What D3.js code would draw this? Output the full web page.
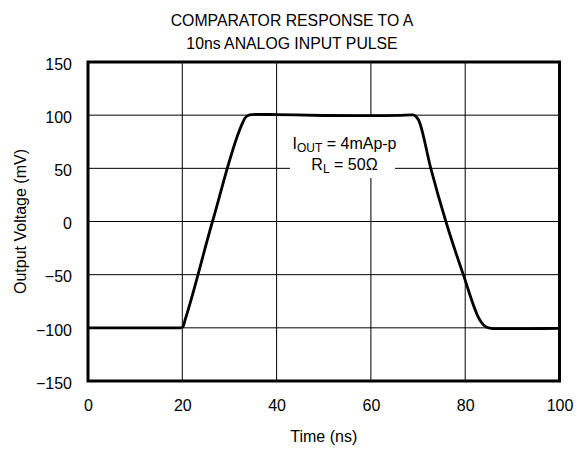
<!DOCTYPE html>
<html>
<head>
<meta charset="utf-8">
<script src="https://cdn.jsdelivr.net/npm/d3@7"></script>
<style>
body { margin: 0; background: #fff; }
text { font-family: "Liberation Sans", Arial, sans-serif; fill: #000; }
</style>
</head>
<body>
<script>
// data
var timeNs = [0, 10, 19.6, 20.1, 20.6, 26.4, 32.6, 33.3, 34.3, 35.5, 40, 50, 60, 66, 68.9, 69.5, 70.1, 72.7, 75.9, 79.6, 83.1, 84.0, 85.2, 86.6, 93, 100];
var outMv  = [-100, -100, -100, -99.2, -92.4, 0, 90.8, 97.3, 100.3, 100.8, 100.5, 99.7, 99.5, 99.8, 100.2, 99, 95.5, 50, 0, -50, -92.6, -97.8, -100.3, -100.8, -100.7, -100.6];
var xTicks = [0, 20, 40, 60, 80, 100];
var yTicks = [-150, -100, -50, 0, 50, 100, 150];

var data = timeNs.map(function(t, i) { return { t: t, v: outMv[i] }; });

var W = 587, H = 449;
var margin = { top: 62, right: 27.5, bottom: 68, left: 88 };
var width = W - margin.left - margin.right,
    height = H - margin.top - margin.bottom;

var svg = d3.select("body").append("svg")
    .attr("width", W)
    .attr("height", H);

var g = svg.append("g")
    .attr("transform", "translate(" + margin.left + "," + margin.top + ")");

var x = d3.scaleLinear().domain([0, 100]).range([0, width]);
var y = d3.scaleLinear().domain([-150, 150]).range([height, 0]);

// grid
g.append("g").selectAll("line").data(xTicks.slice(1, -1)).enter().append("line")
    .attr("x1", function(d) { return x(d); }).attr("x2", function(d) { return x(d); })
    .attr("y1", 0).attr("y2", height)
    .attr("stroke", "#000").attr("stroke-width", 1);
g.append("g").selectAll("line").data(yTicks.slice(1, -1)).enter().append("line")
    .attr("y1", function(d) { return y(d); }).attr("y2", function(d) { return y(d); })
    .attr("x1", 0).attr("x2", width)
    .attr("stroke", "#000").attr("stroke-width", 1);

// axes (labels only)
var xAxis = g.append("g")
    .attr("transform", "translate(0," + height + ")")
    .call(d3.axisBottom(x).tickValues(xTicks).tickSize(0).tickPadding(19));
var yAxis = g.append("g")
    .call(d3.axisLeft(y).tickValues(yTicks).tickSize(0).tickPadding(16));
[xAxis, yAxis].forEach(function(a) {
    a.select(".domain").remove();
    a.selectAll("text").attr("font-size", "16px")
        .attr("font-family", "'Liberation Sans', Arial, sans-serif");
});
yAxis.selectAll("text").attr("dy", "0.45em");

// annotation box masks the grid
g.append("rect")
    .attr("x", 202).attr("y", 55)
    .attr("width", 105).attr("height", 61)
    .attr("fill", "#fff");

var t1 = g.append("text")
    .attr("text-anchor", "middle")
    .attr("font-size", "16px")
    .attr("x", x(54.4)).attr("y", 87);
t1.append("tspan").text("I");
t1.append("tspan").attr("font-size", "12px").attr("dy", 3).text("OUT");
t1.append("tspan").attr("dy", -3).text(" = 4mAp-p");

var t2 = g.append("text")
    .attr("text-anchor", "middle")
    .attr("font-size", "16px")
    .attr("x", x(54.4)).attr("y", 108);
t2.append("tspan").text("R");
t2.append("tspan").attr("font-size", "12px").attr("dy", 3).text("L");
t2.append("tspan").attr("dy", -3).text(" = 50\u03A9");

// trace
var line = d3.line()
    .x(function(d) { return x(d.t); })
    .y(function(d) { return y(d.v); })
    .curve(d3.curveMonotoneX);

g.append("path")
    .datum(data)
    .attr("fill", "none")
    .attr("stroke", "#000")
    .attr("stroke-width", 2.8)
    .attr("stroke-linejoin", "round")
    .attr("d", line);

// frame
g.append("rect")
    .attr("width", width).attr("height", height)
    .attr("fill", "none")
    .attr("stroke", "#000").attr("stroke-width", 3);

// titles
svg.append("text").attr("x", 292).attr("y", 26)
    .attr("text-anchor", "middle").attr("font-size", "15.8px")
    .text("COMPARATOR RESPONSE TO A");
svg.append("text").attr("x", 292).attr("y", 49)
    .attr("text-anchor", "middle").attr("font-size", "15.8px")
    .text("10ns ANALOG INPUT PULSE");

svg.append("text")
    .attr("x", margin.left + width / 2).attr("y", 442)
    .attr("text-anchor", "middle").attr("font-size", "16px")
    .text("Time (ns)");

svg.append("text")
    .attr("transform", "translate(26," + (margin.top + height / 2) + ") rotate(-90)")
    .attr("text-anchor", "middle").attr("font-size", "16px")
    .text("Output Voltage (mV)");
</script>
</body>
</html>
